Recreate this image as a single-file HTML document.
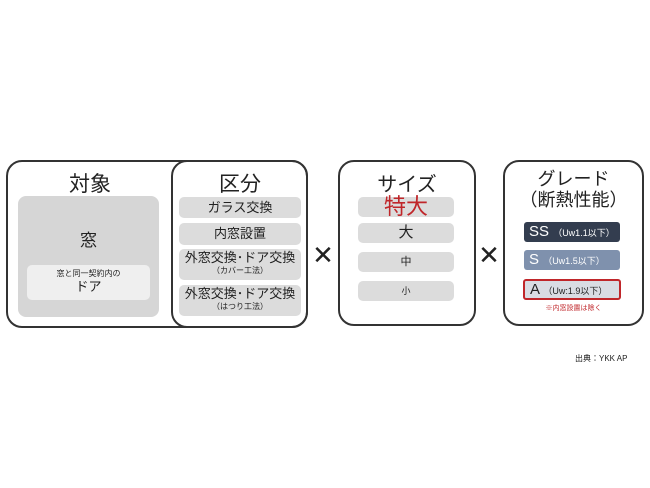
<!DOCTYPE html>
<html><head><meta charset="utf-8"><style>
body{margin:0;width:650px;height:488px;background:#fff;position:relative;font-family:"Liberation Sans","Noto Sans CJK JP",sans-serif;overflow:hidden;color:#222}
.a{position:absolute;box-sizing:border-box}
.box{border:2px solid #333;border-radius:16px;background:#fff}
.g{background:#dcdcdc;border-radius:5px;text-align:center}
.t{text-align:center}
</style></head><body>
<div class="a box" style="left:6px;top:160px;width:302px;height:168px"></div>
<div class="a box" style="left:171px;top:160px;width:137px;height:168px;background:transparent"></div>
<div class="a t" style="left:40px;top:168px;width:100px;font-size:21px">対象</div>
<div class="a" style="left:18px;top:196px;width:141px;height:121px;background:#d6d6d6;border-radius:8px"></div>
<div class="a t" style="left:18px;top:226px;width:141px;font-size:17px">窓</div>
<div class="a" style="left:27px;top:265px;width:123px;height:35px;background:#efefef;border-radius:5px;text-align:center;font-size:8px;line-height:11px;padding-top:3px">窓と同一契約内の<br><span style="font-size:13px;line-height:15px">ドア</span></div>
<div class="a t" style="left:190px;top:168px;width:100px;font-size:21px">区分</div>
<div class="a g" style="left:179px;top:197px;width:122px;height:21px;font-size:13px;line-height:21px">ガラス交換</div>
<div class="a g" style="left:179px;top:223px;width:122px;height:22px;font-size:13px;line-height:22px">内窓設置</div>
<div class="a g" style="left:179px;top:249px;width:122px;height:31px;font-size:13px;line-height:16px;padding-top:1px">外窓交換･ドア交換<br><span style="font-size:8px;line-height:10px;display:block">（カバー工法）</span></div>
<div class="a g" style="left:179px;top:285px;width:122px;height:31px;font-size:13px;line-height:16px;padding-top:1px">外窓交換･ドア交換<br><span style="font-size:8px;line-height:10px;display:block">（はつり工法）</span></div>
<div class="a t" style="left:308px;top:240px;width:30px;font-size:26px">✕</div>
<div class="a box" style="left:338px;top:160px;width:138px;height:166px"></div>
<div class="a t" style="left:338px;top:168px;width:138px;font-size:20px">サイズ</div>
<div class="a g" style="left:358px;top:197px;width:96px;height:20px;font-size:22px;line-height:20px;color:#c0262a">特大</div>
<div class="a g" style="left:358px;top:223px;width:96px;height:20px;font-size:15px;line-height:20px">大</div>
<div class="a g" style="left:358px;top:252px;width:96px;height:20px;font-size:11px;line-height:20px">中</div>
<div class="a g" style="left:358px;top:281px;width:96px;height:20px;font-size:9px;line-height:20px">小</div>
<div class="a t" style="left:475px;top:240px;width:28px;font-size:26px">✕</div>
<div class="a box" style="left:503px;top:160px;width:141px;height:166px"></div>
<div class="a t" style="left:503px;top:169px;width:141px;font-size:18px;line-height:21px">グレード<br>（断熱性能）</div>
<div class="a" style="left:524px;top:222px;width:96px;height:20px;background:#333d4f;color:#fff;border-radius:3px;font-size:15px;line-height:20px;padding-left:5px">SS <span style="font-size:9px">（Uw1.1以下）</span></div>
<div class="a" style="left:524px;top:250px;width:96px;height:20px;background:#7f91ad;color:#fff;border-radius:3px;font-size:15px;line-height:20px;padding-left:5px">S <span style="font-size:9px">（Uw1.5以下）</span></div>
<div class="a" style="left:523px;top:279px;width:98px;height:21px;background:#d9dce3;border:2px solid #c0262a;border-radius:3px;font-size:15px;line-height:18px;padding-left:5px">A <span style="font-size:9px">（Uw:1.9以下）</span></div>
<div class="a t" style="left:503px;top:303px;width:141px;font-size:7px;color:#c0262a">※内窓設置は除く</div>
<div class="a" style="left:575px;top:353px;font-size:8px">出典：YKK AP</div>
</body></html>
